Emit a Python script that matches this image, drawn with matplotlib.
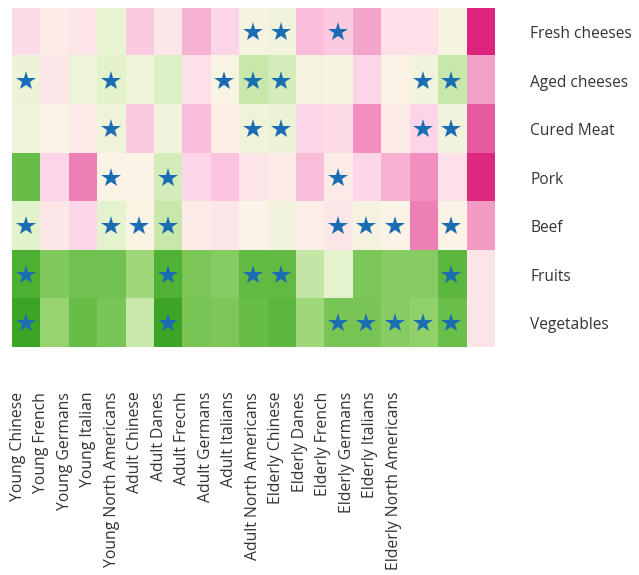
import numpy as np
import matplotlib
matplotlib.use("Agg")
import matplotlib.pyplot as plt
from matplotlib.colors import LinearSegmentedColormap

foods = ["Fresh cheeses", "Aged cheeses", "Cured Meat", "Pork", "Beef",
         "Fruits", "Vegetables"]
groups = ["Young Chinese", "Young French", "Young Germans", "Young Italian",
          "Young North Americans", "Adult Chinese", "Adult Danes", "Adult Frecnh",
          "Adult Germans", "Adult Italians", "Adult North Americans",
          "Elderly Chinese", "Elderly Danes", "Elderly French", "Elderly Germans",
          "Elderly Italians", "Elderly North Americans"]

# Association scores (negative = pink, positive = green)
fresh_cheeses = [-0.15, -0.05, -0.10, 0.15, -0.25, -0.08, -0.35, -0.20, 0.05, 0.08,
                 -0.30, -0.25, -0.40, -0.12, -0.12, 0.05, -0.90]
aged_cheeses = [0.12, -0.08, 0.10, 0.20, 0.10, 0.22, -0.12, 0.03, 0.30, 0.25,
                0.06, 0.05, -0.20, 0.02, 0.08, 0.30, -0.42]
cured_meat = [0.10, 0.00, -0.06, 0.10, -0.25, 0.08, -0.30, -0.03, 0.10, 0.12,
              -0.20, -0.15, -0.50, -0.05, -0.20, 0.08, -0.70]
pork = [0.70, -0.20, -0.55, 0.00, 0.00, 0.25, -0.20, -0.27, -0.10, -0.05,
        -0.30, -0.05, -0.20, -0.35, -0.50, -0.12, -0.88]
beef = [0.20, -0.08, -0.18, 0.18, 0.03, 0.30, -0.05, -0.08, 0.00, 0.08,
        -0.03, -0.08, 0.06, 0.00, -0.55, 0.00, -0.45]
fruits = [0.82, 0.58, 0.65, 0.65, 0.45, 0.80, 0.60, 0.55, 0.72, 0.72,
          0.32, 0.18, 0.60, 0.55, 0.55, 0.75, -0.10]
vegetables = [0.90, 0.48, 0.70, 0.62, 0.30, 0.90, 0.62, 0.60, 0.70, 0.75,
              0.45, 0.62, 0.62, 0.55, 0.50, 0.68, -0.10]

# Significant associations: group columns per food row
significant = {
    "Fresh cheeses": [8, 9, 11],
    "Aged cheeses": [0, 3, 7, 8, 9, 14, 15],
    "Cured Meat": [3, 8, 9, 14, 15],
    "Pork": [3, 5, 11],
    "Beef": [0, 3, 4, 5, 11, 12, 13, 15],
    "Fruits": [0, 5, 8, 9, 15],
    "Vegetables": [0, 5, 11, 12, 13, 14, 15],
}

values = np.array([fresh_cheeses, aged_cheeses, cured_meat, pork, beef,
                   fruits, vegetables])

cmap = LinearSegmentedColormap.from_list(
    "pink_green",
    [(0.00, "#d90a70"), (0.25, "#f28fbf"), (0.40, "#fdd5e8"), (0.50, "#fdf3e8"),
     (0.60, "#e2f3cc"), (0.75, "#93d26c"), (0.90, "#52b336"), (1.00, "#2a9a18")])

fig = plt.figure(figsize=(6.39, 5.75), dpi=100)
ax = fig.add_axes([0.0183, 0.396, 0.7547, 0.5896])
ax.imshow(values, cmap=cmap, vmin=-1, vmax=1, aspect="auto",
          interpolation="nearest")

for r, food in enumerate(foods):
    cols = significant[food]
    ax.plot(cols, [r] * len(cols), linestyle="none", marker="*",
            markersize=15, color="#1a6db3", markeredgewidth=0)

for s in ax.spines.values():
    s.set_visible(False)

ax.yaxis.tick_right()
ax.set_yticks(range(len(foods)))
ax.set_yticklabels(foods, fontsize=11.2, family="Open Sans", color="#333333")
ax.tick_params(axis="y", length=0, pad=26)

# group labels sit in a narrower band than the columns
ax.set_xticks(np.linspace(-0.28, 12.96, len(groups)))
ax.set_xticklabels(groups, rotation=90, fontsize=11.3, family="Open Sans",
                   color="#333333", va="top", ha="center")
ax.tick_params(axis="x", length=0, pad=32)

fig.savefig("out.png", dpi=100)
